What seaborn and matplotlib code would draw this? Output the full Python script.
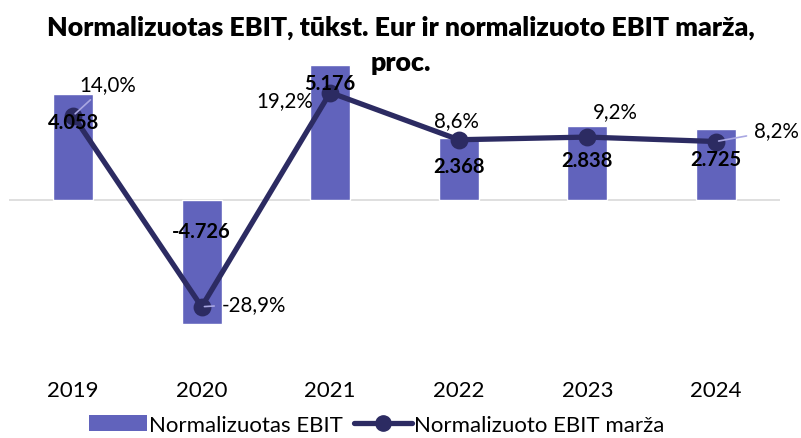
import matplotlib
matplotlib.use("Agg")
import matplotlib.pyplot as plt
import seaborn as sns
import pandas as pd
from matplotlib.patches import Patch
from matplotlib.lines import Line2D

# data
years = ["2019", "2020", "2021", "2022", "2023", "2024"]
ebit = [4058, -4726, 5176, 2368, 2838, 2725]          # tukst. Eur
margin = [14.0, -28.9, 19.2, 8.6, 9.2, 8.2]           # proc.

bar_color = "#6163BC"
line_color = "#2C2B62"
leader_color = "#A9A7E2"

sns.set_style("white")
plt.rcParams["font.family"] = ["Lato", "DejaVu Sans"]
plt.rcParams["text.color"] = "black"
plt.rcParams["xtick.color"] = "black"

df = pd.DataFrame({"year": years, "ebit": ebit, "margin": margin})

fig = plt.figure(figsize=(8.01, 4.39), dpi=100)
ax = fig.add_axes([0.011, 0.157, 0.963, 0.706])

sns.barplot(data=df, x="year", y="ebit", color=bar_color, width=0.31,
            saturation=1, ax=ax, zorder=2)
ax.axhline(0, color="#D9D9D9", lw=1.2, zorder=1)
ax.set_ylim(-6470, 5400)

ax2 = ax.twinx()
sns.pointplot(data=df, x="year", y="margin", color=line_color, ax=ax2,
              markers="o", markersize=10, linewidth=3.8, zorder=3)
ax2.set_ylim(-42.9, 26.7)
ax.set_xlim(-0.5, len(years) - 0.5)

for a in (ax, ax2):
    for s in a.spines.values():
        s.set_visible(False)
    a.set_yticks([])
    a.set_ylabel("")
    a.set_xlabel("")
ax.tick_params(axis="x", length=0, pad=8, labelsize=16, labelcolor="black")
ax2.tick_params(axis="x", length=0)

def fmt_thousands(v):
    return f"{v:,}".replace(",", ".")

# bar value labels (offsets in pixels from bar end)
bar_dy = [-28, 93, -18, -28, -34, -30]
for i, (v, dy) in enumerate(zip(ebit, bar_dy)):
    ax2.annotate(fmt_thousands(v), xy=(i, v), xycoords=ax.transData,
                 xytext=(0, dy), textcoords="offset pixels",
                 ha="center", va="center", fontsize=14.5, fontweight="bold",
                 color="black", zorder=5)

# margin labels
pct_off = [(35, 32), (20, 3), (-45, -8), (-2, 20), (28, 26), (38, 11)]
pct_ha = ["center", "left", "center", "center", "center", "left"]
leader = [True, True, False, False, False, True]
for i, (m, off, ha, ld) in enumerate(zip(margin, pct_off, pct_ha, leader)):
    label = f"{m:.1f}".replace(".", ",") + "%"
    kw = {}
    if ld:
        kw["arrowprops"] = dict(arrowstyle="-", color=leader_color, lw=1.2,
                                shrinkA=3, shrinkB=2)
    ax2.annotate(label, xy=(i, m), xytext=off, textcoords="offset pixels",
                 ha=ha, va="center", fontsize=14.8, color="black",
                 zorder=5, **kw)

fig.suptitle("Normalizuotas EBIT, tūkst. Eur ir normalizuoto EBIT marža,\nproc.",
             x=0.5, y=0.965, fontsize=19.3, fontweight="heavy", color="black",
             linespacing=1.55)

handles = [Patch(facecolor=bar_color, edgecolor="none"),
           Line2D([], [], color=line_color, lw=3.8, marker="o", markersize=11)]
fig.legend(handles, ["Normalizuotas EBIT", "Normalizuoto EBIT marža"],
           loc="lower center", bbox_to_anchor=(0.47, -0.038), ncol=2,
           frameon=False, fontsize=16, handlelength=2.6, handleheight=0.75,
           handletextpad=0.1, columnspacing=0.5)

fig.savefig("out.png", dpi=100)
